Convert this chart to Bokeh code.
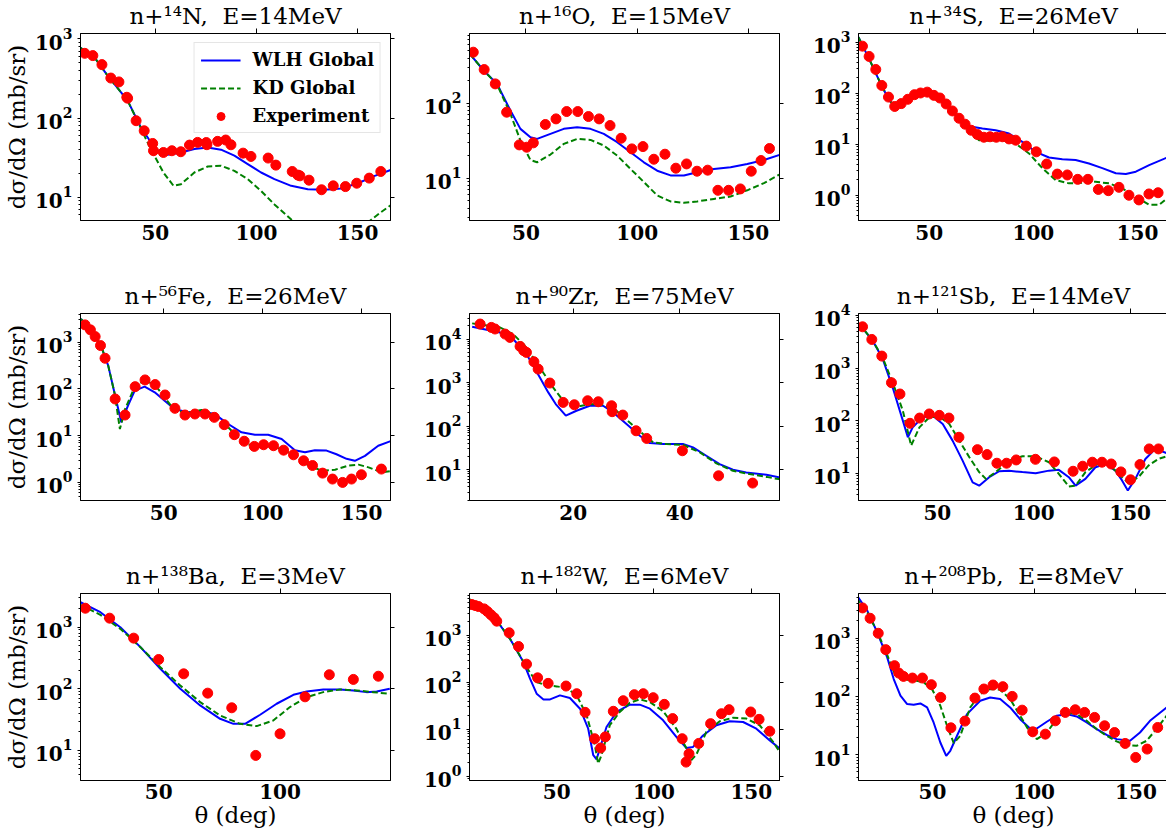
from bokeh.plotting import figure
from bokeh.layouts import gridplot
from bokeh.models import FixedTicker, LinearAxis, Legend, LegendItem, CustomJSTickFormatter
from bokeh.embed import file_html
from bokeh.resources import INLINE

FONT = "DejaVu Serif"

# ---------------- data (theta in deg, cross section in mb/sr) ----------------
N14_exp_theta = [15.1, 19.1, 23.6, 28.0, 32.0, 35.9, 36.3, 40.5, 44.5, 48.7, 49.1, 54.0, 58.2, 62.6, 66.9, 70.9, 75.2, 75.5,
                 80.8, 84.8, 87.4, 93.4, 97.3, 105.8, 109.6, 117.7, 120.5, 121.5, 126.0, 132.2, 138.0, 144.0, 149.6, 155.8, 161.5]
N14_exp_xs = [657, 615, 473, 320, 286, 183, 178, 92.5, 69, 47.7, 38.6, 36.7, 38.6, 37.5, 45.5, 49.2, 49.0, 46.0,
              50.7, 52.7, 45.9, 36.0, 32.7, 31.2, 25.4, 21.1, 19.0, 18.6, 16.4, 12.4, 13.9, 13.6, 15.0, 17.4, 21.1]
N14_wlh_theta = [13, 20, 26.4, 31, 36.3, 42.9, 47.9, 52.0, 56.1, 62.7, 69.3, 75.9, 82.5, 89.1, 95.7, 102.3, 108.9, 117.2,
                 125.4, 133.7, 141.9, 150.2, 158.5, 166.7]
N14_wlh_xs = [770, 580, 343, 245, 166, 76, 49, 36.7, 34.3, 36.7, 40.5, 42.5, 39.8, 33.4, 26.2, 20.5, 16.9, 13.9,
              12.6, 12.4, 12.9, 15.0, 18.6, 22.2]
N14_kd_theta = [13, 20, 26.4, 31, 36.3, 42.9, 46, 49.1, 54, 59, 62.7, 69.3, 75.9, 82.5, 89.1, 95.7, 102.3, 108.9, 118,
                125, 135, 145, 152, 156, 161, 166.7]
N14_kd_xs = [770, 580, 343, 245, 166, 74, 50, 35, 20.5, 13.9, 14.6, 20.5, 24.4, 24.9, 21.5, 16.9, 12.0, 8.1, 5.0,
             3.4, 2.4, 2.6, 3.8, 5.0, 6.3, 8.0]

O16_exp_theta = [26.3, 31.2, 36.2, 41.3, 47.0, 50.3, 53.3, 58.7, 63.5, 68.3, 73.3, 78.1, 82.9, 87.8, 92.8, 97.6, 102.6,
                 107.5, 112.5, 117.4, 122.2, 126.9, 131.7, 136.3, 141.1, 146.4, 151.3, 155.7, 159.5]
O16_exp_xs = [479, 281, 181, 75.9, 27.8, 25.9, 29.6, 52, 61.8, 77.4, 77.4, 66.4, 61.8, 50.4, 34.1, 24.6, 26.4,
              17.9, 20.9, 13.6, 15.5, 12.4, 12.8, 6.9, 6.9, 7.2, 12.4, 17.2, 24.9]
O16_wlh_theta = [24.7, 31, 37, 43, 47.5, 52, 55, 61, 67, 73, 79, 85, 91, 97, 103, 109, 115, 121, 127, 134.5, 142,
                 149.5, 157, 164.5]
O16_wlh_xs = [455, 273, 181, 80, 45.5, 35.2, 33.4, 39, 45.5, 47.9, 45.5, 39, 30.2, 22.2, 16.3, 12.6, 10.9, 10.9, 12,
              13.3, 14, 15.5, 17.5, 20.7]
O16_kd_theta = [24.7, 31, 37, 43, 47.5, 52, 55, 61, 67, 73, 79, 85, 91, 97, 103, 109, 115, 121, 127, 134.5, 142,
                149.5, 157, 164.5]
O16_kd_xs = [455, 273, 178, 72, 31.8, 17.5, 16.3, 20.7, 28.7, 33.4, 32.4, 27.3, 20, 13.3, 8.9, 5.9, 4.9, 4.7, 4.9,
             5.3, 5.7, 6.9, 8.6, 11.4]

S34_exp_theta = [17.9, 21.1, 24.3, 27.2, 30.4, 33.4, 36.5, 39.7, 42.9, 45.8, 49.0, 52.2, 55.1, 58.1, 61.1, 64.3, 67.2,
                 70.1, 73.1, 76.2, 79.2, 82.2, 85.1, 88.3, 91.5, 96.6, 101.4, 106.4, 111.5, 116.3, 121.3, 126.2,
                 131.2, 136.0, 141.1, 145.9, 150.7, 155.5, 159.9]
S34_exp_xs = [836, 525, 292, 142, 84, 55, 62.5, 76, 93.6, 101, 105, 90.8, 80.5, 61.5, 44.9, 32.3, 24.7, 18.8, 15.5,
              13.7, 14.0, 13.7, 14.0, 12.7, 12.0, 9.2, 7.1, 4.1, 2.6, 2.5, 2.05, 2.05, 1.3, 1.23, 1.43, 1.0, 0.81,
              1.06, 1.12]
S34_wlh_theta = [16.0, 21.1, 25.9, 30.7, 33.1, 37.1, 43.5, 49.9, 56.3, 62.7, 69.1, 75.5, 81.9, 88.3, 94.7, 101.1,
                 107.5, 113.9, 120.3, 126.7, 133.1, 139.6, 144.4, 149.2, 155.6, 165.2]
S34_wlh_xs = [1250, 472, 178, 72.6, 58, 67.3, 95, 105, 72.6, 37, 22.5, 20.3, 18.8, 16.2, 11.1, 7.1, 5.5, 5.1, 4.9,
              4.2, 3.4, 2.7, 2.6, 2.9, 3.9, 5.7]
S34_kd_theta = [16.0, 21.1, 25.9, 30.7, 33.1, 37.1, 43.5, 49.9, 56.3, 62.7, 69.1, 73.9, 78.7, 85.1, 91.5, 97.9,
                104.3, 110.7, 117.1, 123.5, 129.9, 136.3, 142.7, 149.2, 155.6, 160.4, 165.2]
S34_kd_xs = [1250, 472, 178, 72.6, 58, 67.3, 95, 105, 72.6, 37, 18.8, 12, 11.7, 12, 10.3, 6.6, 3.4, 1.99, 1.71,
             1.76, 1.84, 1.71, 1.36, 0.94, 0.65, 0.65, 0.94]

Fe56_exp_theta = [10.3, 13.0, 15.4, 18.1, 20.4, 25.5, 30.5, 35.6, 40.6, 45.7, 50.7, 55.7, 60.8, 65.8, 70.9, 75.6,
                  80.6, 85.7, 90.7, 95.8, 100.5, 105.5, 110.6, 115.6, 120.7, 125.2, 130.3, 135.3, 140.4, 144.9,
                  149.9, 160.0]
Fe56_exp_xs = [2350, 1840, 1320, 849, 454, 61, 27.7, 112, 156, 124, 74.3, 38.5, 27.7, 29.1, 29.1, 24.7, 17.2, 10.5,
               7.6, 5.9, 6.4, 6.1, 4.9, 3.9, 2.9, 2.3, 1.58, 1.18, 1.0, 1.18, 1.46, 1.93]
Fe56_wlh_theta = [8.2, 13.6, 18.6, 22.0, 25.3, 28.6, 32.0, 35.4, 40.4, 45.5, 50.5, 55.6, 62.3, 69.1, 75.8, 82.6,
                  89.3, 96.1, 102.8, 109.6, 116.3, 121.4, 126.4, 132.3, 137.3, 142.4, 146.6, 151.7, 158.4, 165.2]
Fe56_wlh_xs = [3160, 1780, 782, 316, 78, 19.3, 44, 92, 112, 85, 56, 37, 31.6, 33, 29, 17.8, 11.8, 10.5, 10.5, 8.5,
               4.9, 4.4, 4.9, 4.8, 4.0, 3.2, 2.9, 3.7, 6.1, 7.8]
Fe56_kd_theta = [8.2, 13.6, 18.6, 22.0, 25.3, 27.9, 30.5, 35.4, 40.4, 45.5, 50.5, 55.6, 62.3, 69.1, 75.8, 82.6, 89.3,
                 96.1, 102.8, 109.6, 116.3, 123.1, 129.9, 136.6, 143.4, 148.4, 153.5, 160.2, 165.2]
Fe56_kd_xs = [3160, 1780, 782, 316, 78, 13.9, 37, 112, 151, 124, 66, 34.4, 30.6, 35.5, 26.8, 15.1, 7.8, 5.6, 5.9,
              5.2, 3.7, 2.3, 1.78, 1.87, 2.3, 2.4, 2.1, 1.64, 1.76]

Zr90_exp_theta = [2.5, 4.6, 5.3, 7.2, 8.1, 10.0, 10.7, 11.2, 12.6, 13.4, 15.6, 18.1, 20.2, 22.7, 24.7, 27.2, 27.3,
                  29.3, 31.8, 33.8, 40.5, 47.3, 53.7]
Zr90_exp_xs = [22100, 18500, 17000, 13000, 10900, 6780, 5400, 4930, 3010, 2040, 975, 350, 309, 382, 362, 293, 214,
               179, 78, 52, 27.1, 7.2, 4.9]
Zr90_wlh_theta = [1.0, 6.2, 8.7, 11.2, 13.7, 15.3, 16.7, 18.6, 20.6, 23.1, 25.6, 27.5, 30.0, 32.5, 34.4, 36.9, 40.6,
                  42.5, 45.0, 47.5, 50.0, 52.5, 56.3, 59.4]
Zr90_wlh_xs = [19200, 14200, 10000, 4520, 1316, 594, 321, 173, 225, 293, 293, 206, 111, 60, 40.6, 38.6, 38.6, 32.4,
               20.8, 13.4, 9.9, 8.6, 7.6, 6.4]
Zr90_kd_theta = [1.0, 6.2, 8.7, 11.2, 13.7, 16.2, 18.1, 20.6, 23.1, 25.6, 28.1, 30.6, 33.1, 35.0, 37.5, 40.6, 43.8,
                 46.9, 50.0, 53.1, 56.3, 59.4]
Zr90_kd_xs = [22900, 18500, 13000, 6430, 2230, 775, 382, 278, 321, 309, 225, 121, 65.5, 42.2, 38.6, 37.2, 24.8,
              13.9, 9.4, 7.9, 6.8, 5.8]

Sb121_exp_theta = [11.2, 16.0, 21.2, 26.2, 30.6, 35.8, 40.8, 45.8, 51.0, 56.0, 61.2, 70.8, 75.8, 80.9, 85.9, 90.9,
                   100.9, 110.7, 120.4, 125.4, 130.4, 135.4, 140.2, 145.2, 150.2, 155.1, 159.9, 164.7]
Sb121_exp_xs = [6090, 3500, 1690, 527, 321, 89, 112, 134, 126, 112, 48.3, 28.1, 22.6, 15.5, 15.5, 17.9, 18.4, 16.4,
                10.9, 13.6, 16.2, 16.2, 15.0, 10.6, 7.5, 14.6, 29, 29]
Sb121_wlh_theta = [9.3, 16.5, 21.7, 26.8, 32.1, 34.7, 37.2, 42.4, 47.6, 52.8, 57.9, 63.1, 68.3, 71.7, 76.9, 82.1,
                   87.2, 94.1, 101.0, 107.9, 113.0, 118.2, 121.7, 126.8, 132.0, 137.2, 142.4, 145.8, 148.8, 152.7,
                   157.9, 163.1, 170]
Sb121_wlh_xs = [7050, 3300, 1480, 430, 100, 48.3, 74.6, 116, 124, 86.5, 41.7, 17.4, 6.7, 5.8, 8.4, 10.9, 11.2, 10.5,
                10, 11.2, 11.6, 8.4, 5.8, 7.8, 13, 15, 11.2, 7.3, 4.7, 7.8, 18.7, 29, 23.3]
Sb121_kd_theta = [9.3, 16.5, 21.7, 26.8, 32.1, 36.4, 40.7, 45.9, 51.0, 56.2, 61.4, 66.6, 71.7, 75.2, 80.3, 87.2,
                  94.1, 101.0, 107.9, 113.0, 118.2, 121.7, 126.8, 133.7, 138.9, 144.0, 149.2, 154.3, 159.5, 164.7, 170]
Sb121_kd_xs = [7050, 3300, 1550, 535, 155, 33.5, 74.6, 116, 119, 86.5, 41.7, 20.1, 10.5, 7.8, 10.5, 17.4, 21, 21,
               16.2, 9.7, 5.6, 5.8, 10.5, 15.5, 14.8, 9.7, 6.5, 8.4, 14, 18.7, 21.6]

Ba138_exp_theta = [19.8, 29.8, 39.7, 50.0, 60.3, 70.2, 80.1, 90.0, 100.0, 110.3, 120.3, 130.2, 140.5]
Ba138_exp_xs = [2030, 1400, 664, 299, 175, 85, 49.2, 8.3, 18.6, 74.1, 169, 142, 160]
Ba138_wlh_theta = [17.8, 26.0, 34.2, 42.5, 50.7, 58.9, 67.1, 75.3, 80.8, 85.6, 91.8, 98.6, 105.5, 111.0, 117.8,
                   124.7, 130.2, 135.6, 139.8, 145.2]
Ba138_wlh_xs = [2540, 1750, 1000, 474, 211, 100, 53.7, 32.6, 27, 27, 37.9, 57.2, 80, 90.6, 97.5, 97.5, 94, 88.3,
                90.6, 100]
Ba138_kd_theta = [17.8, 26.0, 34.2, 42.5, 50.7, 58.9, 67.1, 75.3, 83.5, 90.4, 97.2, 104.1, 111.0, 117.8, 124.7,
                  131.5, 138.4, 145.2]
Ba138_kd_xs = [2300, 1585, 940, 474, 224, 113, 60.8, 37, 27, 24.8, 30.6, 50.5, 73.3, 88.3, 97.5, 94, 88.3, 83]

W182_exp_theta = [6.4, 8.1, 9.8, 12.7, 14.4, 16.2, 17.9, 19.2, 25.6, 30.4, 34.5, 40.2, 45.6, 54.8, 60.3, 64.6, 69.5,
                  72.6, 75.0, 79.1, 84.2, 89.9, 94.5, 99.6, 105.3, 109.6, 114.5, 116.5, 118.0, 123.0, 129.1, 134.7,
                  138.6, 149.7, 154.0, 159.5]
W182_exp_xs = [4570, 4350, 4140, 3690, 3240, 2760, 2380, 2020, 1140, 583, 245, 125, 95.3, 83.6, 57.4, 23, 6.3, 4.0,
               6.9, 24.2, 40.7, 54.7, 57.4, 47.2, 34, 16.9, 6.3, 2.0, 3.0, 5.0, 13.2, 21.5, 26.2, 23.4, 16.3, 9.1]
W182_wlh_theta = [5.1, 12.3, 19.2, 26.0, 32.9, 36.3, 39.7, 43.2, 46.6, 51.7, 56.8, 62.0, 66.2, 68.8, 70.5, 72.2, 75.6,
                  80.8, 87.6, 92.7, 97.9, 104.7, 111.5, 116.7, 120.1, 125.2, 132.1, 138.9, 145.8, 152.6, 159.5, 164.6]
W182_wlh_xs = [5740, 3690, 2080, 849, 271, 120, 57.4, 43.4, 43.4, 52.8, 46.4, 27.5, 10.3, 2.8, 2.3, 3.9, 11.2, 23.4,
               33.5, 33.5, 27.5, 15.5, 6.9, 4.0, 4.2, 7.4, 12.2, 14.8, 14.3, 10.3, 5.8, 3.9]
W182_kd_theta = [5.1, 12.3, 19.2, 26.0, 32.9, 36.3, 39.7, 44.8, 50.0, 55.1, 60.3, 65.4, 69.6, 71.3, 73.0, 77.3, 82.4,
                 87.6, 92.7, 97.9, 104.7, 111.5, 116.7, 119.2, 121.8, 126.9, 133.8, 140.6, 147.5, 154.3, 161.2, 164.6]
W182_kd_xs = [5990, 3750, 2100, 849, 280, 161, 102, 86.3, 82.2, 75.7, 52.8, 19.9, 4.6, 1.86, 2.8, 12.2, 23.4, 36.9,
              43.4, 38.1, 24.2, 10.3, 3.9, 2.2, 2.9, 8.8, 14.8, 17.7, 16.9, 12.2, 5.4, 3.3]

Pb208_exp_theta = [15.7, 19.4, 23.4, 27.1, 31.4, 33.5, 35.8, 40.2, 45.1, 49.5, 54.1, 59.1, 66.0, 70.9, 75.3, 79.8,
                   84.6, 89.2, 94.1, 99.3, 105.5, 110.4, 115.3, 120.2, 124.8, 129.7, 134.6, 139.5, 144.7, 149.9,
                   155.5, 160.7]
Pb208_exp_xs = [3330, 2210, 1220, 638, 338, 252, 221, 207, 207, 159, 96, 28.8, 37.6, 93.5, 134, 157, 147, 100, 58,
                24.6, 22.4, 38, 53, 58.9, 53, 43.5, 31.2, 23.9, 15.5, 8.9, 12.4, 29.2]
Pb208_wlh_theta = [12.7, 18.0, 22.9, 27.8, 31.0, 34.3, 37.6, 40.8, 44.1, 47.4, 50.6, 53.9, 56.8, 58.8, 62.1, 67.0,
                   73.5, 78.4, 83.3, 88.2, 93.1, 98.0, 101.3, 106.2, 111.1, 116.0, 120.9, 125.8, 130.7, 135.6, 140.5,
                   147.1, 152.0, 156.9, 165.1]
Pb208_wlh_xs = [5580, 3000, 1270, 470, 199, 103, 73.8, 71.8, 75.7, 64.6, 35.6, 16.1, 9.5, 11.6, 21, 49.5, 84.1, 96,
                90, 64.6, 40.6, 28, 28, 36.6, 46.5, 49.5, 45.2, 35.6, 27.4, 21.8, 18.4, 17.2, 23.9, 38, 64.6]
Pb208_kd_theta = [12.7, 18.0, 22.9, 27.8, 31.9, 36.0, 40.8, 45.8, 49.8, 53.9, 57.2, 60.5, 63.7, 68.6, 73.5, 78.4,
                  83.3, 88.2, 93.1, 98.0, 101.3, 106.2, 111.1, 116.0, 120.9, 125.8, 130.7, 135.6, 140.5, 145.4,
                  150.3, 155.2, 160.1, 165.1]
Pb208_kd_xs = [4900, 2800, 1300, 516, 227, 194, 191, 174, 134, 69, 31.2, 15.7, 21, 64.6, 110, 134, 130, 90, 46.5,
               23.9, 18.4, 23.9, 40.6, 53, 49.5, 38, 27.4, 21, 16.8, 14.5, 14.1, 17.2, 27.4, 46.5]

titles = ["n+¹⁴N,\u00a0 E=14MeV", "n+¹⁶O,\u00a0 E=15MeV", "n+³⁴S,\u00a0 E=26MeV",
          "n+⁵⁶Fe,\u00a0 E=26MeV", "n+⁹⁰Zr,\u00a0 E=75MeV", "n+¹²¹Sb,\u00a0 E=14MeV",
          "n+¹³⁸Ba,\u00a0 E=3MeV", "n+¹⁸²W,\u00a0 E=6MeV", "n+²⁰⁸Pb,\u00a0 E=8MeV"]
series = [
    (N14_exp_theta, N14_exp_xs, N14_wlh_theta, N14_wlh_xs, N14_kd_theta, N14_kd_xs),
    (O16_exp_theta, O16_exp_xs, O16_wlh_theta, O16_wlh_xs, O16_kd_theta, O16_kd_xs),
    (S34_exp_theta, S34_exp_xs, S34_wlh_theta, S34_wlh_xs, S34_kd_theta, S34_kd_xs),
    (Fe56_exp_theta, Fe56_exp_xs, Fe56_wlh_theta, Fe56_wlh_xs, Fe56_kd_theta, Fe56_kd_xs),
    (Zr90_exp_theta, Zr90_exp_xs, Zr90_wlh_theta, Zr90_wlh_xs, Zr90_kd_theta, Zr90_kd_xs),
    (Sb121_exp_theta, Sb121_exp_xs, Sb121_wlh_theta, Sb121_wlh_xs, Sb121_kd_theta, Sb121_kd_xs),
    (Ba138_exp_theta, Ba138_exp_xs, Ba138_wlh_theta, Ba138_wlh_xs, Ba138_kd_theta, Ba138_kd_xs),
    (W182_exp_theta, W182_exp_xs, W182_wlh_theta, W182_wlh_xs, W182_kd_theta, W182_kd_xs),
    (Pb208_exp_theta, Pb208_exp_xs, Pb208_wlh_theta, Pb208_wlh_xs, Pb208_kd_theta, Pb208_kd_xs),
]
x_ranges = [(13, 166.3), (24.6, 164), (16, 164.9), (8, 164.6), (0.5, 58.75), (9.1, 169.9),
            (17.8, 145.5), (5.2, 164.5), (13.7, 166)]
y_ranges = [(5.07, 1170), (2.73, 850), (0.32, 1480), (0.41, 4120), (1.95, 38600), (3.03, 10900),
            (3.25, 3520), (0.81, 7850), (3.57, 5900)]
x_ticks = [[50, 100, 150]] * 4 + [[20, 40]] + [[50, 100, 150]] * 4
legend_labels = ["WLH Global", "KD Global", "Experiment"]


def decade_ticks(lo, hi):
    major, minor = [], []
    for e in range(-2, 6):
        d = 10.0 ** e
        if lo <= d <= hi:
            major.append(d)
        for m in range(2, 10):
            v = m * d
            if lo <= v <= hi:
                minor.append(v)
    return major, minor


def blank_axis(ticks, tick_len):
    return LinearAxis(ticker=FixedTicker(ticks=ticks, minor_ticks=[]),
                      formatter=CustomJSTickFormatter(code="return ''"),
                      major_label_text_font_size="1px", major_label_standoff=0,
                      major_tick_out=tick_len, major_tick_in=0,
                      minor_tick_out=0, minor_tick_in=0, axis_line_color="black")


figs = []
for i in range(9):
    r, c = divmod(i, 3)
    et, ex, wt, wx, kt, kx = series[i]
    p = figure(frame_width=310, frame_height=187, y_axis_type="log",
               x_range=x_ranges[i], y_range=y_ranges[i],
               output_backend="svg", toolbar_location=None,
               min_border_left=73, min_border_right=5 if c == 2 else 6,
               min_border_top=33, min_border_bottom=49 if r == 2 else 60,
               background_fill_color="white", border_fill_color="white")
    p.outline_line_color = "black"
    p.outline_line_width = 1
    p.xgrid.visible = False
    p.ygrid.visible = False

    p.title.text = titles[i]
    p.title.text_font = FONT
    p.title.text_font_size = "23px"
    p.title.text_font_style = "normal"
    p.title.text_color = "black"
    p.title.align = "center"
    p.title.standoff = 0

    major, minor = decade_ticks(*y_ranges[i])
    xa = p.xaxis[0]
    ya = p.yaxis[0]
    xa.ticker = FixedTicker(ticks=x_ticks[i], minor_ticks=[])
    ya.ticker = FixedTicker(ticks=major, minor_ticks=minor)
    for ax in (xa, ya):
        ax.major_label_text_font = FONT
        ax.major_label_text_font_style = "bold"
        ax.major_label_text_font_size = "20px"
        ax.major_label_text_color = "black"
        ax.axis_line_color = "black"
        ax.axis_label_text_font = FONT
        ax.axis_label_text_font_style = "normal"
        ax.axis_label_text_font_size = "23px"
        ax.axis_label_text_color = "black"
        ax.major_tick_in = 0
        ax.minor_tick_in = 0
    xa.major_tick_out = 0
    xa.minor_tick_out = 0
    xa.major_label_standoff = 4
    ya.major_tick_out = 3
    ya.minor_tick_out = 2
    ya.major_label_standoff = 5
    if c == 0:
        ya.axis_label = "dσ/dΩ (mb/sr)"
        ya.axis_label_standoff = 2
    if r == 2:
        xa.axis_label = "θ (deg)"
        xa.axis_label_standoff = 0
        xa.major_label_standoff = 3

    p.add_layout(blank_axis(x_ticks[i], 5), "above")
    p.add_layout(blank_axis(major, 4), "right")

    r_wlh = p.line(wt, wx, line_color="#0000ff", line_width=2)
    r_kd = p.line(kt, kx, line_color="#008000", line_width=2, line_dash="6 3")
    r_exp = p.scatter(et, ex, size=10, fill_color="#ff0000", line_color="#ff0000")

    if i == 0:
        leg = Legend(items=[LegendItem(label=legend_labels[0], renderers=[r_wlh]),
                            LegendItem(label=legend_labels[1], renderers=[r_kd]),
                            LegendItem(label=legend_labels[2], renderers=[r_exp])],
                     location="top_right")
        leg.label_text_font = FONT
        leg.label_text_font_style = "bold"
        leg.label_text_font_size = "18px"
        leg.label_text_color = "black"
        leg.border_line_color = "#cccccc"
        leg.border_line_width = 1
        leg.background_fill_alpha = 0.85
        leg.margin = 9
        leg.padding = 6
        leg.spacing = 7
        leg.glyph_width = 40
        leg.glyph_height = 20
        leg.label_height = 20
        leg.label_standoff = 12
        p.add_layout(leg)
    figs.append(p)

grid = gridplot([figs[0:3], figs[3:6], figs[6:9]], toolbar_location=None)
open("out.html", "w").write(file_html(grid, INLINE))
